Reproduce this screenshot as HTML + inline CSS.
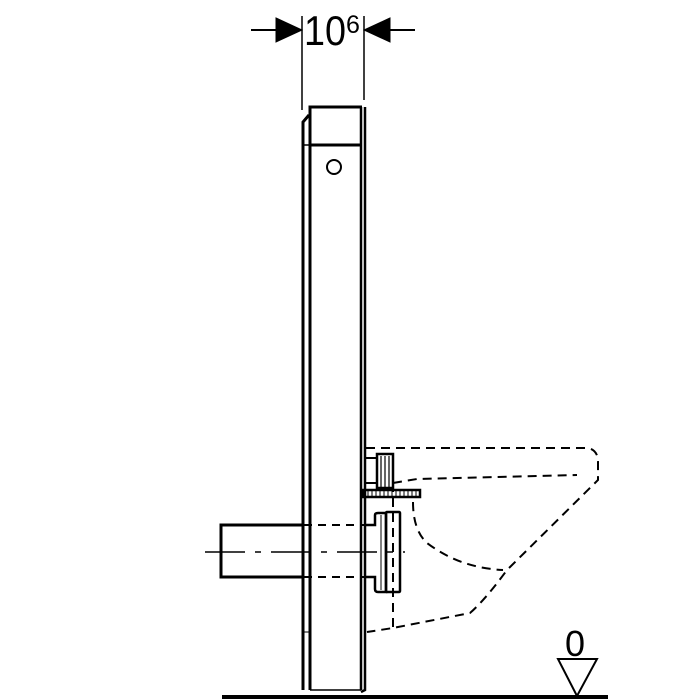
<!DOCTYPE html>
<html><head><style>body{margin:0;background:#fff}svg{display:block}</style></head><body>
<svg width="700" height="700" viewBox="0 0 700 700" xmlns="http://www.w3.org/2000/svg" fill="none" stroke="#000">
<!-- dimension -->
<line x1="302" y1="16" x2="302" y2="110" stroke-width="1.5"/>
<line x1="364" y1="16" x2="364" y2="100" stroke-width="1.5"/>
<line x1="251" y1="30" x2="278" y2="30" stroke-width="2"/>
<polygon points="276,18 302,30 276,42" fill="#000"/>
<line x1="390" y1="30" x2="415" y2="30" stroke-width="2"/>
<polygon points="390,18 364,30 390,42" fill="#000"/>
<text x="304" y="45" font-family="Liberation Sans, sans-serif" font-size="42" fill="#000" stroke="none" textLength="42" lengthAdjust="spacingAndGlyphs">10</text>
<text x="346" y="33" font-family="Liberation Sans, sans-serif" font-size="25" fill="#000" stroke="none">6</text>
<!-- panel -->
<path d="M303 690 V122 L309 115" stroke-width="3"/>
<line x1="303" y1="145" x2="310" y2="145" stroke-width="1.5"/>
<path d="M310 690 V107 H362" stroke-width="3"/>
<line x1="310" y1="145" x2="360" y2="145" stroke-width="3"/>
<path d="M361 107 V690" stroke-width="2.5"/>
<path d="M365 107 V690 L361 692" stroke-width="2.5"/>
<circle cx="334" cy="167" r="7" stroke-width="2"/>
<line x1="303" y1="632" x2="310" y2="632" stroke-width="1"/>
<line x1="310" y1="690" x2="361" y2="690" stroke-width="1.5"/>
<!-- floor -->
<line x1="222" y1="697" x2="608" y2="697" stroke-width="4"/>
<!-- pipe -->
<path d="M302 525 H221 V577 H302" stroke-width="3"/>
<g stroke-dasharray="8,6" stroke-width="2">
<line x1="304" y1="525" x2="374" y2="525"/>
<line x1="304" y1="577" x2="374" y2="577"/>
</g>
<line x1="205" y1="552" x2="405" y2="552" stroke-width="1.5" stroke-dasharray="40,10,6,10"/>
<!-- connector -->
<path d="M366 525 H375 V515 Q375 513 378 513 H386 V592 H378 Q375 592 375 589 V577 H366" stroke-width="2.5"/>
<line x1="381" y1="515" x2="381" y2="590" stroke-width="1"/>
<rect x="386" y="512" width="14" height="80" rx="1" stroke-width="2.5"/>
<!-- fitting -->
<path d="M366 458 H378 M366 483 H378" stroke-width="2"/>
<rect x="377" y="454" width="16" height="34" stroke-width="2.5"/>
<g stroke-width="1.2"><line x1="381" y1="456" x2="381" y2="487"/><line x1="385" y1="456" x2="385" y2="487"/><line x1="389" y1="456" x2="389" y2="487"/></g>
<rect x="363" y="490" width="57" height="7" stroke-width="2.5"/>
<g stroke-width="1"><path d="M368 490v7M372 490v7M376 490v7M380 490v7M384 490v7M388 490v7M392 490v7M396 490v7M400 490v7M404 490v7M408 490v7M412 490v7M416 490v7"/></g>
<!-- toilet dashed -->
<g stroke-dasharray="9,6" stroke-width="2">
<path d="M366 448 H588 Q598 450 598 462 V480 L507 570 Q485 600 470 613 L393 628 L367 632"/>
<path d="M393 483 L417 479 L577 475"/>
<path d="M413 502 Q413 530 427 543 Q460 568 503 570"/>
<line x1="393" y1="483" x2="393" y2="628"/>
</g>
<!-- ground symbol -->
<text x="565" y="656" font-family="Liberation Sans, sans-serif" font-size="36" fill="#000" stroke="none">0</text>
<polygon points="558,659 597,659 577,696" stroke-width="2"/>
</svg>
</body></html>
